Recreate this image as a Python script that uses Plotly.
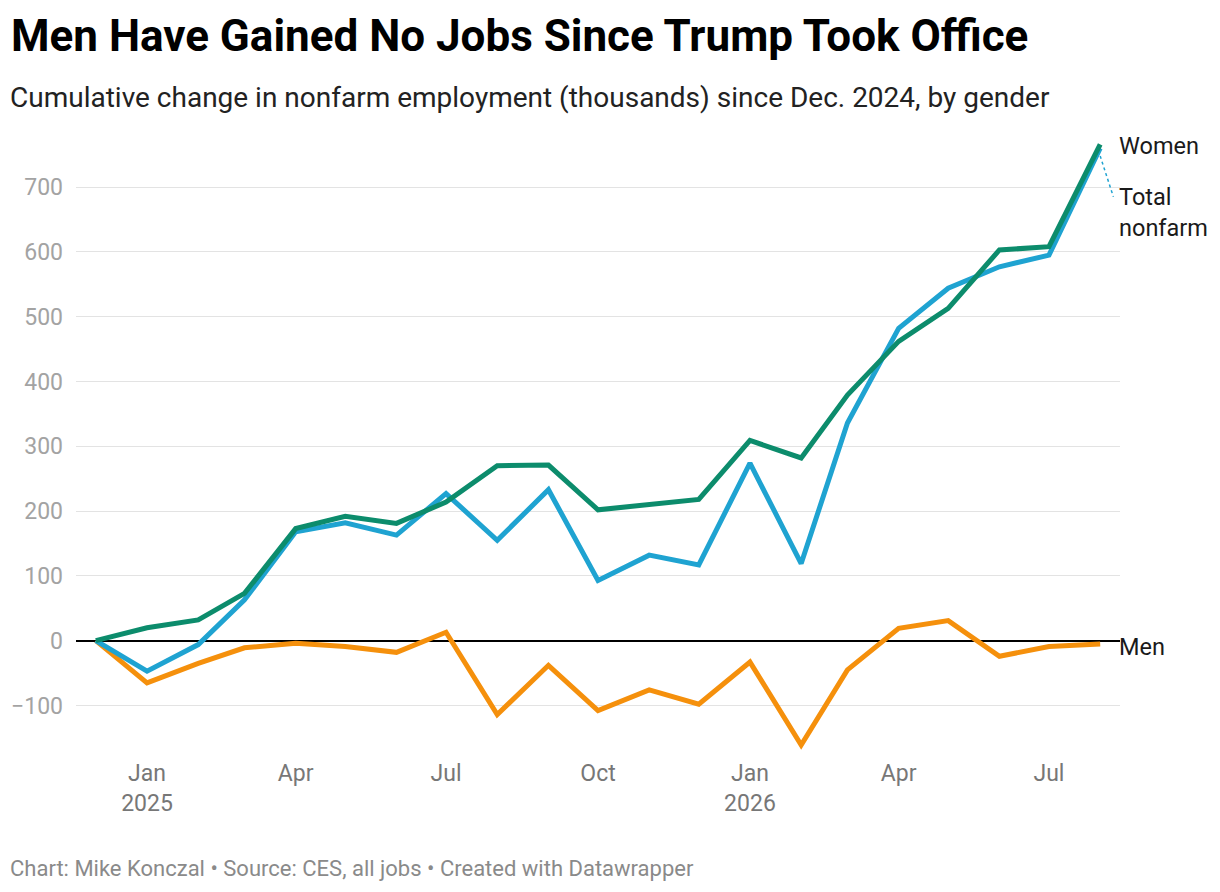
import pandas as pd
import plotly.graph_objects as go

# months since Dec 2024 (cumulative change, thousands)
months = pd.date_range("2024-12-01", "2026-08-01", freq="MS")

total = [0, -47, -6, 63, 168, 182, 163, 227, 155, 233, 93,
         132, 117, 274, 119, 336, 482, 544, 577, 595, 760]
women = [0, 20, 32, 73, 173, 192, 181, 214, 270, 271, 202,
         210, 218, 309, 282, 379, 462, 513, 603, 608, 766]
men = [0, -65, -35, -11, -4, -9, -18, 13, -114, -38, -108,
       -76, -98, -33, -161, -45, 19, 31, -24, -9, -5]

tick_dates = ["2025-01-01", "2025-04-01", "2025-07-01", "2025-10-01",
              "2026-01-01", "2026-04-01", "2026-07-01"]
tick_text = ["Jan<br>2025", "Apr", "Jul", "Oct", "Jan<br>2026", "Apr", "Jul"]
y_ticks = [-100, 0, 100, 200, 300, 400, 500, 600, 700]

GREEN = "#0c8c6c"
BLUE = "#1fa3d1"
ORANGE = "#f5900c"
FONT = "Roboto"

# plot area in pixels, used to place text outside it
L, R, T, B = 76, 1120, 140, 750


def px(x, y):
    return (x - L) / (R - L), (B - y) / (B - T)


fig = go.Figure()
fig.add_trace(go.Scatter(x=months, y=men, mode="lines",
                         line=dict(color=ORANGE, width=5), hoverinfo="skip"))
fig.add_trace(go.Scatter(x=months, y=total, mode="lines",
                         line=dict(color=BLUE, width=5), hoverinfo="skip"))
fig.add_trace(go.Scatter(x=months, y=women, mode="lines",
                         line=dict(color=GREEN, width=5), hoverinfo="skip"))

# dotted connector to the "Total nonfarm" label
fig.add_shape(type="line", xref="x", yref="y",
              x0=months[-1], y0=total[-1] - 12,
              x1=months[-1] + pd.Timedelta(days=8), y1=685,
              line=dict(color=BLUE, width=1.5, dash="dot"))

lab_font = dict(size=23.5, color="#1a1a1a", family=FONT)
ann = []
ann.append(dict(text="Women", xref="paper", yref="y", x=1, y=women[-1] - 2,
                xanchor="left", yanchor="middle", xshift=-3, showarrow=False,
                font=lab_font))
ann.append(dict(text="Total<br>nonfarm", xref="paper", yref="y", x=1, y=661,
                xanchor="left", yanchor="middle", align="left", xshift=-3,
                showarrow=False, font=lab_font))
ann.append(dict(text="Men", xref="paper", yref="y", x=1, y=men[-1] - 4,
                xanchor="left", yanchor="middle", xshift=-3, showarrow=False,
                font=lab_font))

sx, sy = px(8, 97)
ann.append(dict(text="Cumulative change in nonfarm employment (thousands) since Dec. 2024, by gender",
                xref="paper", yref="paper", x=sx, y=sy, xanchor="left", yanchor="middle",
                showarrow=False, font=dict(size=28, color="#222222", family=FONT)))
fx, fy = px(8, 868)
ann.append(dict(text="Chart: Mike Konczal • Source: CES, all jobs • Created with Datawrapper",
                xref="paper", yref="paper", x=fx, y=fy, xanchor="left", yanchor="middle",
                showarrow=False, font=dict(size=22, color="#8a8a8a", family=FONT)))

fig.update_layout(
    width=1220,
    height=892,
    margin=dict(l=L, r=1220 - R, t=T, b=892 - B),
    paper_bgcolor="white",
    plot_bgcolor="white",
    showlegend=False,
    font=dict(family=FONT),
    title=dict(text="<b>Men Have Gained No Jobs Since Trump Took Office</b>",
               xref="container", yref="container", x=11 / 1220, y=1 - 36 / 892,
               xanchor="left", yanchor="middle",
               font=dict(size=44, color="#000000", family=FONT)),
    annotations=ann,
)

fig.update_xaxes(
    range=["2024-11-19", "2026-08-13"],
    tickvals=tick_dates,
    ticktext=tick_text,
    showgrid=False,
    zeroline=False,
    showline=False,
    ticks="",
    ticklabelstandoff=7,
    tickfont=dict(size=23, color="#777777", family=FONT),
)
fig.update_yaxes(
    range=[-168.7, 772.7],
    tickvals=y_ticks,
    ticktext=["−100"] + [str(v) for v in y_ticks[1:]],
    showgrid=True,
    gridcolor="#e3e3e3",
    gridwidth=1,
    zeroline=True,
    zerolinecolor="#000000",
    zerolinewidth=2,
    showline=False,
    ticks="",
    ticklabelstandoff=12,
    tickfont=dict(size=23, color="#a3a3a3", family=FONT),
)

fig.write_html("out.html", config={"displayModeBar": False},
               post_script="document.body.style.margin='0';")
